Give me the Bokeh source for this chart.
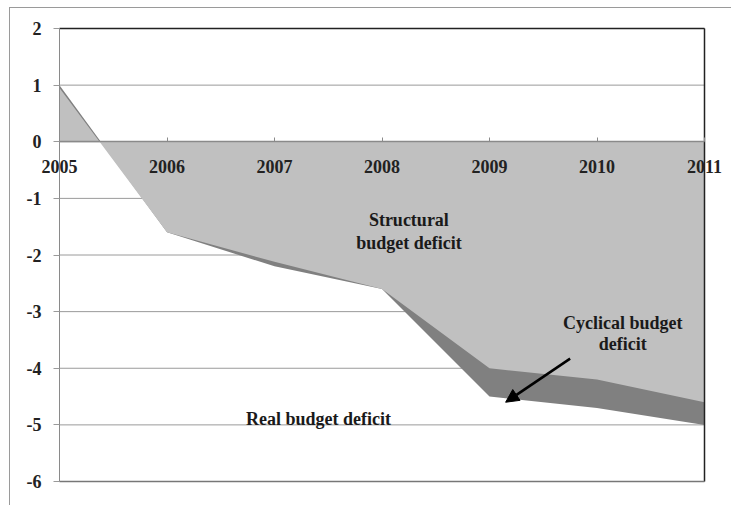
from bokeh.plotting import figure
from bokeh.models import FixedTicker, Range1d, Arrow, NormalHead
from bokeh.core.properties import value
from bokeh.embed import file_html
from bokeh.resources import INLINE

years = [2005, 2006, 2007, 2008, 2009, 2010, 2011]
year_labels = ["2005", "2006", "2007", "2008", "2009", "2010", "2011"]
real_deficit = [1.0, -1.6, -2.2, -2.6, -4.5, -4.7, -5.0]
structural_deficit = [0.95, -1.6, -2.12, -2.6, -4.0, -4.2, -4.6]
y_ticks = [-6, -5, -4, -3, -2, -1, 0, 1, 2]
y_tick_labels = ["-6", "-5", "-4", "-3", "-2", "-1", "0", "1", "2"]

label_texts = ["Structural", "budget deficit", "Cyclical budget", "deficit", "Real budget deficit"]
label_x = [2008.25, 2008.25, 2010.24, 2010.24, 2007.41]
label_y = [-1.38, -1.78, -3.2, -3.57, -4.89]

arrow_start = (2009.75, -3.83)
arrow_end = (2009.15, -4.6)

FONT = "Liberation Serif"

# frame covers the whole figure; the plotting area (2005..2011, -6..2) sits inside it
x_lo, x_hi = years[0], years[-1]
y_lo, y_hi = y_ticks[0], y_ticks[-1]
px_x = 645 / (x_hi - x_lo)
px_y = 453 / (y_hi - y_lo)

p = figure(width=722, height=498, output_backend="svg", toolbar_location=None,
           x_range=Range1d(x_lo - 49 / px_x, x_hi + 28 / px_x),
           y_range=Range1d(y_lo - 25 / px_y, y_hi + 20 / px_y),
           min_border=0, min_border_left=0, min_border_right=0,
           min_border_top=0, min_border_bottom=0)
p.styles = {"margin-left": "9px", "margin-top": "7px",
            "border-left": "1px solid #9a9a9a", "border-top": "1px solid #9a9a9a"}
p.background_fill_color = "white"
p.border_fill_color = "white"
p.outline_line_color = None
p.xgrid.visible = False
p.ygrid.visible = False

# horizontal gridlines (beneath the areas)
p.segment(x0=[x_lo] * len(y_ticks), x1=[x_hi] * len(y_ticks), y0=y_ticks, y1=y_ticks,
          line_color="#9a9a9a", line_width=1)

p.varea(x=years, y1=0, y2=real_deficit, fill_color="#808080")
p.varea(x=years, y1=0, y2=structural_deficit, fill_color="#c0c0c0")

# plot-area border: top and right dark, bottom grey
p.segment(x0=[x_lo, x_hi], x1=[x_hi, x_hi], y0=[y_hi, y_hi], y1=[y_hi, y_lo],
          line_color="#222222", line_width=1.5)
p.segment(x0=[x_lo], x1=[x_hi], y0=[y_lo], y1=[y_lo], line_color="#777777", line_width=1.5)

xa = p.xaxis[0]
xa.fixed_location = 0
xa.bounds = (x_lo, x_hi)
xa.ticker = FixedTicker(ticks=years)
xa.major_label_overrides = dict(zip(years, year_labels))
xa.axis_line_color = "#8a8a8a"
xa.axis_line_width = 1.5
xa.major_tick_line_color = "#8a8a8a"
xa.major_tick_in = 4
xa.major_tick_out = 0
xa.minor_tick_line_color = None
xa.major_label_standoff = 18
xa.major_label_text_font = FONT
xa.major_label_text_font_size = "18px"
xa.major_label_text_font_style = "bold"
xa.major_label_text_color = "#222222"

ya = p.yaxis[0]
ya.fixed_location = x_lo
ya.bounds = (y_lo, y_hi)
ya.ticker = FixedTicker(ticks=y_ticks)
ya.major_label_overrides = dict(zip(y_ticks, y_tick_labels))
ya.axis_line_color = "#8a8a8a"
ya.major_tick_line_color = "#9a9a9a"
ya.major_tick_out = 6
ya.major_tick_in = 0
ya.minor_tick_line_color = None
ya.major_label_standoff = 12
ya.major_label_text_font = FONT
ya.major_label_text_font_size = "18px"
ya.major_label_text_font_style = "bold"
ya.major_label_text_color = "#222222"

p.text(x=label_x, y=label_y, text=label_texts, text_align="center", text_baseline="middle",
       text_font=value(FONT), text_font_size="18px", text_font_style="bold", text_color="#1a1a1a")

p.add_layout(Arrow(end=NormalHead(size=13, fill_color="black", line_color="black"),
                   x_start=arrow_start[0], y_start=arrow_start[1],
                   x_end=arrow_end[0], y_end=arrow_end[1],
                   line_color="black", line_width=2.5))

open("out.html", "w").write(file_html(p, INLINE))
